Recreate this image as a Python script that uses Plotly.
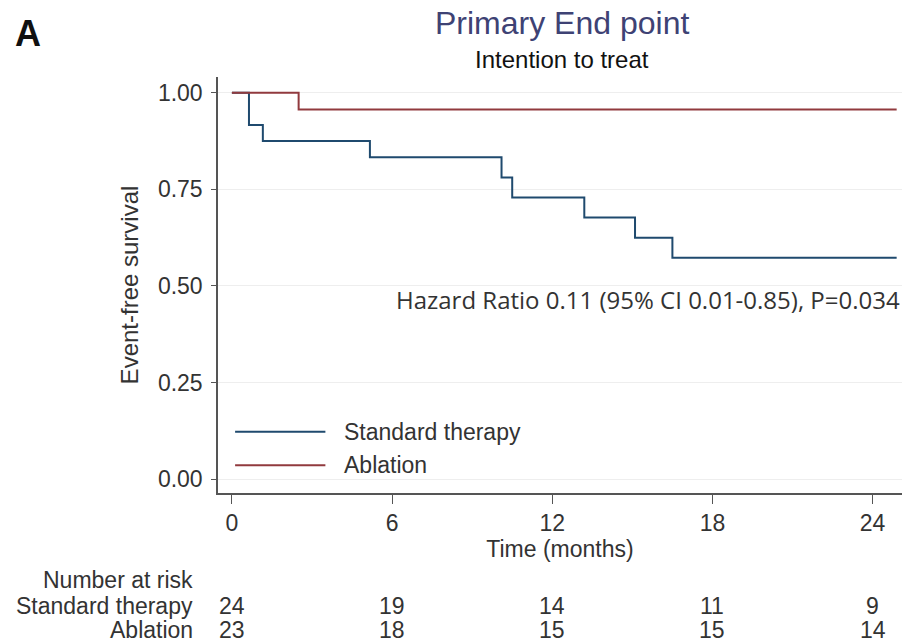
import plotly.graph_objects as go

# Kaplan-Meier estimates
std_time = [0, 0.64, 1.16, 5.17, 10.1, 10.5, 13.2, 15.1, 16.5, 24.9]
std_surv = [1.0, 0.917, 0.875, 0.833, 0.781, 0.729, 0.677, 0.625, 0.573, 0.573]
abl_time = [0, 2.5, 24.9]
abl_surv = [1.0, 0.957, 0.957]

risk_times = [0, 6, 12, 18, 24]
risk_std = [24, 19, 14, 11, 9]
risk_abl = [23, 18, 15, 15, 14]

x_ticks = [0, 6, 12, 18, 24]
y_ticks = [0.0, 0.25, 0.5, 0.75, 1.0]
y_ticklabels = ["0.00", "0.25", "0.50", "0.75", "1.00"]

NAVY = "#1f4a6e"
MAROON = "#913a3e"
TXT = "#333333"
FONT = "Liberation Sans, Arial, sans-serif"
FS = 23

fig = go.Figure()
fig.add_trace(go.Scatter(x=std_time, y=std_surv, mode="lines", line_shape="hv",
                         line=dict(color=NAVY, width=2), name="Standard therapy",
                         showlegend=False))
fig.add_trace(go.Scatter(x=abl_time, y=abl_surv, mode="lines", line_shape="hv",
                         line=dict(color=MAROON, width=2), name="Ablation",
                         showlegend=False))

def ann(text, x, y, xanchor="center", size=FS, color=TXT, family=FONT, xref="paper"):
    return dict(text=text, x=x, y=y, xref=xref, yref="paper", xanchor=xanchor,
                yanchor="middle", showarrow=False,
                font=dict(size=size, color=color, family=family))

annotations = [
    ann("<b>A</b>", -0.300, 1.105, xanchor="left", size=36, color="#111111"),
    ann("Primary End point", 0.503, 1.131, size=32, color="#3e4274"),
    ann("Intention to treat", 0.503, 1.043, size=24, color="#111111"),
    ann("Hazard Ratio 0.11 (95% CI 0.01-0.85), P=0.034", 1.0, 0.464, xanchor="right",
        size=24, family="Open Sans, sans-serif"),
    ann("Standard therapy", 0.181, 0.147, xanchor="left", size=FS),
    ann("Ablation", 0.181, 0.067, xanchor="left", size=FS),
    ann("Number at risk", -0.034, -0.209, xanchor="right", size=FS),
    ann("Standard therapy", -0.034, -0.272, xanchor="right", size=FS),
    ann("Ablation", -0.034, -0.330, xanchor="right", size=FS),
]
for t, n in zip(risk_times, risk_std):
    annotations.append(ann(str(n), t, -0.272, xref="x"))
for t, n in zip(risk_times, risk_abl):
    annotations.append(ann(str(n), t, -0.330, xref="x"))

shapes = [
    dict(type="line", xref="paper", yref="paper", x0=0.025, x1=0.157, y0=0.147, y1=0.147,
         line=dict(color=NAVY, width=2)),
    dict(type="line", xref="paper", yref="paper", x0=0.025, x1=0.157, y0=0.067, y1=0.067,
         line=dict(color=MAROON, width=2)),
]

fig.update_layout(
    width=912, height=644,
    margin=dict(l=218, r=10, t=77, b=151),
    paper_bgcolor="white", plot_bgcolor="white",
    annotations=annotations, shapes=shapes,
    font=dict(family=FONT, color=TXT, size=FS),
    showlegend=False,
)
fig.update_xaxes(range=[-0.52, 25.1], tickvals=x_ticks, ticks="outside", ticklen=9,
                 tickcolor="#555555", showline=True, linecolor="#555555", linewidth=1.5,
                 showgrid=False, zeroline=False,
                 title=dict(text="Time (months)", standoff=0, font=dict(size=FS, color=TXT)),
                 tickfont=dict(size=FS, color=TXT))
fig.update_yaxes(range=[-0.036, 1.041], tickvals=y_ticks, ticktext=y_ticklabels,
                 ticks="outside", ticklen=5, tickcolor="#555555",
                 showline=True, linecolor="#555555", linewidth=1.5,
                 showgrid=True, gridcolor="#eeeeee", gridwidth=1, zeroline=False,
                 ticklabelstandoff=4,
                 title=dict(text="Event-free survival", standoff=12, font=dict(size=24, color=TXT)),
                 tickfont=dict(size=FS, color=TXT))

fig.write_html("out.html")
